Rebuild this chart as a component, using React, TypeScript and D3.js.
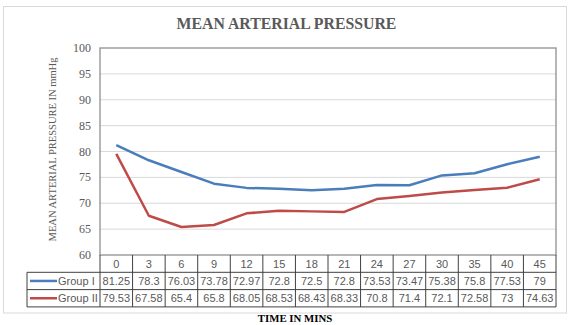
import React from "react";
import * as d3 from "d3";

const times = ["0", "3", "6", "9", "12", "15", "18", "21", "24", "27", "30", "35", "40", "45"];
const group1 = [81.25, 78.3, 76.03, 73.78, 72.97, 72.8, 72.5, 72.8, 73.53, 73.47, 75.38, 75.8, 77.53, 79];
const group2 = [79.53, 67.58, 65.4, 65.8, 68.05, 68.53, 68.43, 68.33, 70.8, 71.4, 72.1, 72.58, 73, 74.63];
const yTicks = [60, 65, 70, 75, 80, 85, 90, 95, 100];
const seriesNames = ["Group I", "Group II"];
const seriesColors = ["#4a7ebb", "#be4b48"];

export default function App() {
  const W = 572, H = 325;
  const left = 100, right = 556, top = 48, bottom = 255;
  const rowH = 17.3;
  const legendLeft = 27;
  const x = d3.scaleBand<string>().domain(times).range([left, right]);
  const y = d3.scaleLinear().domain([60, 100]).range([bottom, top]);
  const line = d3.line<number>()
    .x((_, i) => (x(times[i]) as number) + x.bandwidth() / 2)
    .y((d) => y(d));
  const series = [group1, group2];
  const serif = "'Liberation Serif', 'DejaVu Serif', serif";
  const sans = "'Liberation Sans', Arial, sans-serif";
  const tableBottom = bottom + rowH * 3;
  return (
    <svg width={W} height={H} style={{ position: "absolute", left: 0, top: 0, background: "#fff" }}>
      <rect x={3.5} y={6.5} width={563} height={306.5} fill="#fff" stroke="#d9d9d9" />
      <text x={286.5} y={29} textAnchor="middle" fontFamily={serif} fontWeight="bold" fontSize={15.8} fill="#595959">
        MEAN ARTERIAL PRESSURE
      </text>
      {yTicks.map((t) => (
        <g key={t}>
          {t !== 60 && t !== 100 && (
            <line x1={left} x2={right} y1={y(t)} y2={y(t)} stroke="#d9d9d9" strokeWidth={1} />
          )}
          <text x={91} y={y(t) + 4} textAnchor="end" fontFamily={serif} fontSize={12} fill="#595959">
            {t}
          </text>
        </g>
      ))}
      <rect x={left} y={top} width={right - left} height={bottom - top} fill="none" stroke="#868686" strokeWidth={1.2} />
      <text
        transform={`translate(56, ${(top + bottom) / 2 - 2}) rotate(-90)`}
        textAnchor="middle"
        fontFamily={serif}
        fontSize={10.5}
        fill="#595959"
      >
        MEAN ARTERIAL PRESSURE IN mmHg
      </text>
      {series.map((s, i) => (
        <path key={i} d={line(s) || ""} fill="none" stroke={seriesColors[i]} strokeWidth={2.5} strokeLinejoin="round" />
      ))}
      {/* data table */}
      <g stroke="#404040" strokeWidth={1}>
        <line x1={legendLeft} x2={right} y1={bottom + rowH} y2={bottom + rowH} />
        <line x1={legendLeft} x2={right} y1={bottom + rowH * 2} y2={bottom + rowH * 2} />
        <line x1={legendLeft} x2={right} y1={tableBottom} y2={tableBottom} />
        <line x1={legendLeft} x2={legendLeft} y1={bottom + rowH} y2={tableBottom} />
        {times.map((t) => (
          <line key={t} x1={(x(t) as number) + x.bandwidth()} x2={(x(t) as number) + x.bandwidth()} y1={bottom} y2={tableBottom} />
        ))}
        <line x1={left} x2={left} y1={bottom} y2={tableBottom} />
      </g>
      {times.map((t) => (
        <text key={t} x={(x(t) as number) + x.bandwidth() / 2} y={bottom + 12.5} textAnchor="middle" fontFamily={sans} fontSize={11} fill="#595959">
          {t}
        </text>
      ))}
      {series.map((s, si) => (
        <g key={si}>
          <line x1={legendLeft + 3} x2={legendLeft + 30} y1={bottom + rowH * (si + 1.5)} y2={bottom + rowH * (si + 1.5)} stroke={seriesColors[si]} strokeWidth={2.5} />
          <text x={legendLeft + 31} y={bottom + rowH * (si + 1) + 12.5} fontFamily={sans} fontSize={11} fill="#595959">
            {seriesNames[si]}
          </text>
          {s.map((v, i) => (
            <text key={i} x={(x(times[i]) as number) + x.bandwidth() / 2} y={bottom + rowH * (si + 1) + 12.5} textAnchor="middle" fontFamily={sans} fontSize={11} fill="#595959">
              {String(v)}
            </text>
          ))}
        </g>
      ))}
      <text x={295} y={322} textAnchor="middle" fontFamily={serif} fontWeight="bold" fontSize={10.8} fill="#000">
        TIME IN MINS
      </text>
    </svg>
  );
}
